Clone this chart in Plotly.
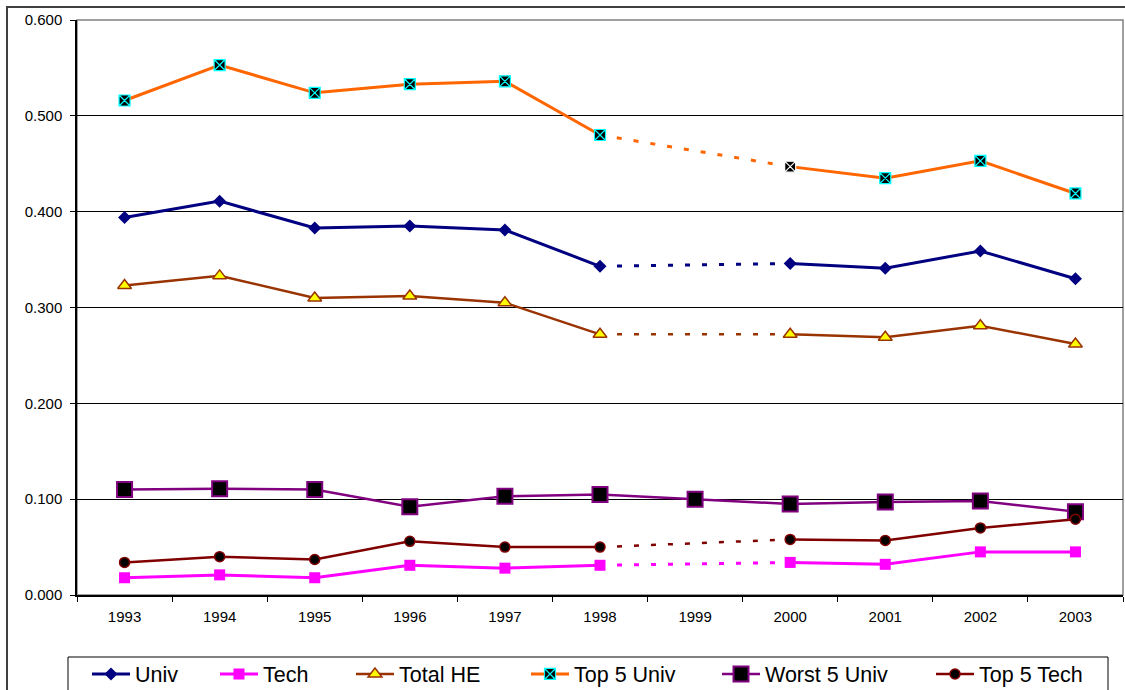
import plotly.graph_objects as go

# Academic years on the category axis
years = ["1993", "1994", "1995", "1996", "1997", "1998", "1999",
         "2000", "2001", "2002", "2003"]

# Series values (1999 is not available except for the worst five)
univ = [0.394, 0.411, 0.383, 0.385, 0.381, 0.343, None, 0.346, 0.341, 0.359, 0.330]
tech = [0.018, 0.021, 0.018, 0.031, 0.028, 0.031, None, 0.034, 0.032, 0.045, 0.045]
total_he = [0.323, 0.333, 0.310, 0.312, 0.305, 0.272, None, 0.272, 0.269, 0.281, 0.262]
top5_univ = [0.516, 0.553, 0.524, 0.533, 0.536, 0.480, None, 0.447, 0.435, 0.453, 0.419]
worst5_univ = [0.110, 0.111, 0.110, 0.092, 0.103, 0.105, 0.100, 0.095, 0.097, 0.098, 0.087]
top5_tech = [0.034, 0.040, 0.037, 0.056, 0.050, 0.050, None, 0.058, 0.057, 0.070, 0.079]

y_ticks = [0.0, 0.1, 0.2, 0.3, 0.4, 0.5, 0.6]

FONT = "Arial, Liberation Sans, sans-serif"

# Plot-area geometry in pixels (used to place legends and frames)
W, H = 1125, 690
L, R, T, B = 77, 2, 20, 95
PW, PH = W - L - R, H - T - B


def px_x(p):
    return (p - L) / PW


def px_y(p):
    return (H - B - p) / PH


series = [
    dict(name="Univ", y=univ, color="#000080", lw=3,
         marker=dict(symbol="diamond", size=10, color="#000080",
                     line=dict(width=0))),
    dict(name="Tech", y=tech, color="#FF00FF", lw=3,
         marker=dict(symbol="square", size=11, color="#FF00FF",
                     line=dict(width=0))),
    dict(name="Total HE", y=total_he, color="#993300", lw=2.5,
         marker=dict(symbol="triangle-up", size=12, color="#FFFF00",
                     line=dict(width=1.5, color="#993300"))),
    dict(name="Top 5 Univ", y=top5_univ, color="#FF6600", lw=3,
         marker=dict(symbol="square-x", size=11, color="#000000",
                     line=dict(width=1.2,
                               color=["#00FFFF"] * 7 + ["#FFFFFF"] + ["#00FFFF"] * 3))),
    dict(name="Worst 5 Univ", y=worst5_univ, color="#800080", lw=2.5,
         marker=dict(symbol="square", size=15, color="#000000",
                     line=dict(width=2, color="#800080"))),
    dict(name="Top 5 Tech", y=top5_tech, color="#800000", lw=2.5,
         marker=dict(symbol="circle", size=10, color="#000000",
                     line=dict(width=1.5, color="#800000"))),
]

# Legend line start positions (px), legend row centre (px)
legend_starts = [92, 220, 356, 531, 722, 936]
legend_row = 674

fig = go.Figure()
i1998, i2000 = years.index("1998"), years.index("2000")

for k, s in enumerate(series):
    lg = "legend" if k == 0 else f"legend{k + 1}"
    # Dashed bridge across the missing 1999 value
    if s["y"][years.index("1999")] is None:
        fig.add_trace(go.Scatter(
            x=[years[i1998], years[i2000]],
            y=[s["y"][i1998], s["y"][i2000]],
            mode="lines", showlegend=False, hoverinfo="skip",
            line=dict(color=s["color"], width=s["lw"], dash="5px,12px"),
        ))
    fig.add_trace(go.Scatter(
        x=years, y=s["y"], name=s["name"], mode="lines+markers",
        connectgaps=False, legend=lg,
        line=dict(color=s["color"], width=s["lw"]),
        marker=s["marker"],
    ))

legend_layouts = {}
for k, xs in enumerate(legend_starts):
    key = "legend" if k == 0 else f"legend{k + 1}"
    legend_layouts[key] = dict(
        xref="container", yref="container",
        x=(xs - 5) / W, y=(H - legend_row) / H,
        xanchor="left", yanchor="middle",
        orientation="h", bgcolor="rgba(0,0,0,0)", borderwidth=0,
        font=dict(family=FONT, size=21.5, color="#000000"),
        itemwidth=38, tracegroupgap=0,
    )

shapes = [
    # plot-area frame
    dict(type="rect", xref="paper", yref="paper", x0=0, x1=1, y0=0, y1=1,
         line=dict(color="#808080", width=1.5), layer="below"),
    # outer chart border
    dict(type="rect", xref="paper", yref="paper",
         x0=px_x(7), x1=px_x(1140), y0=px_y(705), y1=px_y(7),
         line=dict(color="#404040", width=2)),
    # legend box
    dict(type="rect", xref="paper", yref="paper",
         x0=px_x(68), x1=px_x(1108), y0=px_y(705), y1=px_y(657),
         line=dict(color="#000000", width=1)),
]

fig.update_layout(
    width=W, height=H,
    margin=dict(l=L, r=R, t=T, b=B, pad=0, autoexpand=False),
    paper_bgcolor="#FFFFFF", plot_bgcolor="#FFFFFF",
    font=dict(family=FONT, size=15, color="#000000"),
    shapes=shapes,
    showlegend=True,
    **legend_layouts,
)

fig.update_xaxes(
    type="category", categoryorder="array", categoryarray=years,
    range=[-0.5, len(years) - 0.5],
    showgrid=False, zeroline=False,
    showline=True, linecolor="#000000", linewidth=1.5,
    ticks="outside", tickson="boundaries", ticklen=5, tickcolor="#000000",
    tickfont=dict(family=FONT, size=15), ticklabelstandoff=7,
)
fig.update_yaxes(
    range=[0, 0.6], tickvals=y_ticks, tickformat=".3f",
    showgrid=True, gridcolor="#000000", gridwidth=1,
    zeroline=False,
    showline=True, linecolor="#000000", linewidth=1.5,
    ticks="outside", ticklen=5, tickcolor="#000000",
    tickfont=dict(family=FONT, size=15), ticklabelstandoff=5,
)

fig.write_html("out.html")
